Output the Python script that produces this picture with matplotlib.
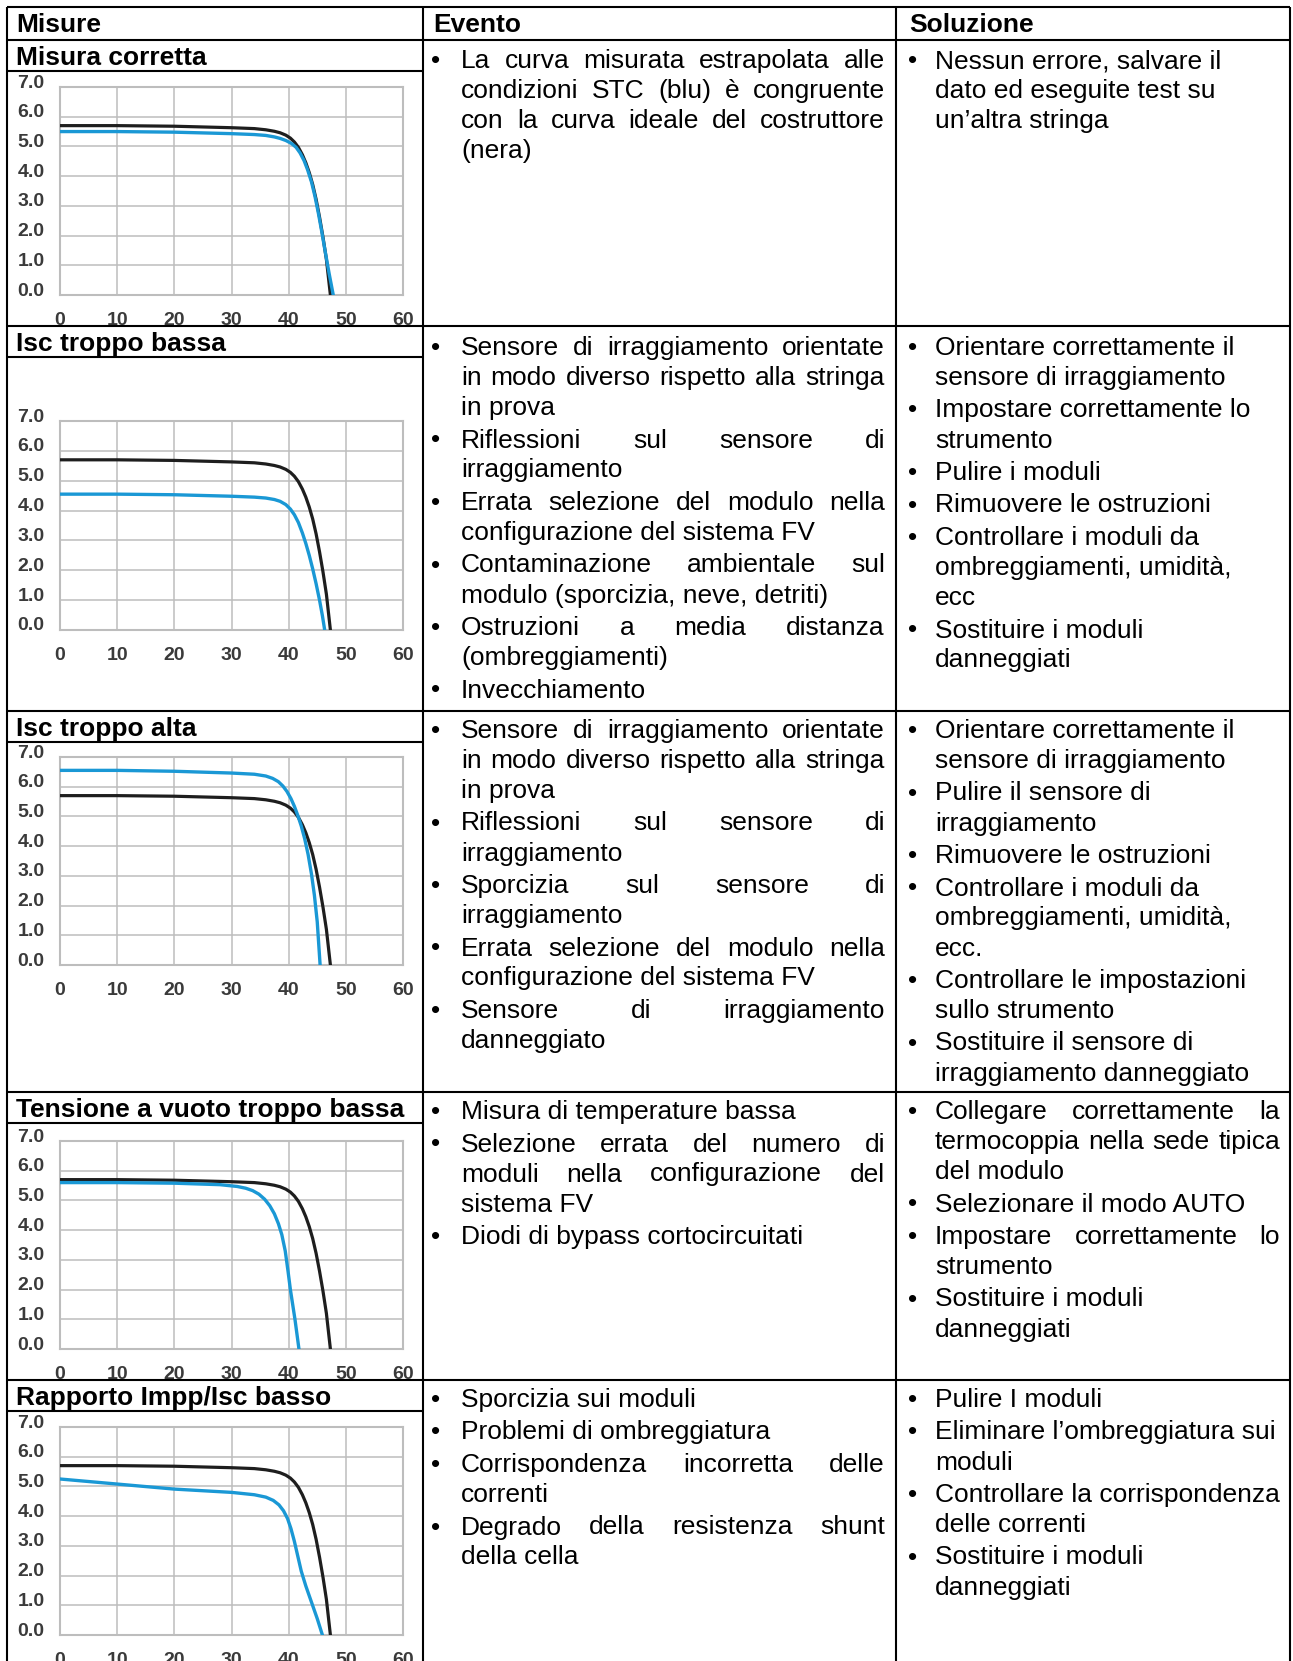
"""
Tabella diagnostica curve I-V: misura, evento, soluzione.
Ogni riga ha una curva ideale (nera) e una misurata a STC (blu).
"""

import matplotlib
matplotlib.use("Agg")
import matplotlib.pyplot as plt
from matplotlib.patches import Rectangle
from matplotlib.transforms import ScaledTranslation

plt.rcParams["font.family"] = ["Liberation Sans", "DejaVu Sans"]

# ── Dati ──────────────────────────────────────────────────────────────────
HEADERS = ["Misure", "Evento", "Soluzione"]
ROW_LABELS = [
    "Misura corretta",
    "Isc troppo bassa",
    "Isc troppo alta",
    "Tensione a vuoto troppo bassa",
    "Rapporto Impp/Isc basso",
]

X_TICKS = [0, 10, 20, 30, 40, 50, 60]
Y_TICKS = [0, 1, 2, 3, 4, 5, 6, 7]
Y_TICK_LABELS = ["0.0", "1.0", "2.0", "3.0", "4.0", "5.0", "6.0", "7.0"]

# curva ideale del costruttore (uguale in tutti i grafici)
V_IDEALE = [0, 10, 20, 30, 34, 36, 37.5, 38.5, 39.5, 40.3, 41, 41.7, 42.4, 43,
            43.6, 44.2, 44.8, 45.4, 46, 46.6, 47.3]
I_IDEALE = [5.70, 5.70, 5.68, 5.63, 5.60, 5.56, 5.51, 5.46, 5.38, 5.28, 5.15,
            4.97, 4.72, 4.45, 4.12, 3.72, 3.22, 2.62, 1.95, 1.20, 0.0]

V_CORRETTA = [0, 10, 20, 30, 34, 36, 37.5, 38.5, 39.5, 40.5, 41.3, 42, 42.7, 43.3,
              44, 44.6, 45.2, 45.8, 46.4, 47.1, 47.8]
I_CORRETTA = [5.50, 5.50, 5.48, 5.43, 5.40, 5.37, 5.32, 5.27, 5.20, 5.10, 4.97,
              4.78, 4.52, 4.22, 3.80, 3.32, 2.75, 2.12, 1.45, 0.70, 0.0]

V_ISC_BASSA = [0, 10, 20, 30, 34, 36, 37.5, 38.5, 39.5, 40.3, 41, 41.7, 42.4, 43,
               43.6, 44.2, 44.8, 45.4, 45.9, 46.3]
I_ISC_BASSA = [4.55, 4.55, 4.53, 4.48, 4.45, 4.42, 4.37, 4.31, 4.20, 4.05, 3.86,
               3.60, 3.25, 2.90, 2.50, 2.05, 1.55, 1.00, 0.48, 0.0]

V_ISC_ALTA = [0, 10, 20, 30, 34, 36, 37.2, 38.2, 39, 39.7, 40.4, 41, 41.6, 42.2,
              42.8, 43.4, 44, 44.5, 45, 45.5]
I_ISC_ALTA = [6.55, 6.55, 6.52, 6.46, 6.42, 6.36, 6.28, 6.17, 6.02, 5.84, 5.60,
              5.34, 5.03, 4.68, 4.25, 3.72, 3.05, 2.35, 1.45, 0.0]

V_VOC_BASSA = [0, 10, 20, 28, 31, 32.5, 33.7, 34.8, 35.8, 36.7, 37.5, 38.2, 38.8,
               39.4, 39.9, 40.3, 40.7, 41.1, 41.45, 41.8]
I_VOC_BASSA = [5.60, 5.60, 5.58, 5.53, 5.47, 5.41, 5.33, 5.21, 5.04, 4.82, 4.55,
               4.22, 3.85, 3.30, 2.60, 2.00, 1.50, 1.00, 0.50, 0.0]

V_IMPP_BASSO = [0, 10, 20, 30, 34, 36, 37.3, 38.3, 39.1, 39.8, 40.4, 41, 41.6,
                42.2, 43, 44, 45, 45.9]
I_IMPP_BASSO = [5.25, 5.08, 4.91, 4.80, 4.72, 4.64, 4.53, 4.38, 4.18, 3.92, 3.58,
                3.15, 2.65, 2.15, 1.65, 1.10, 0.55, 0.0]

CURVE_MISURATE = [
    (V_CORRETTA, I_CORRETTA),
    (V_ISC_BASSA, I_ISC_BASSA),
    (V_ISC_ALTA, I_ISC_ALTA),
    (V_VOC_BASSA, I_VOC_BASSA),
    (V_IMPP_BASSO, I_IMPP_BASSO),
]

# testi: una lista di paragrafi (righe già spezzate) per cella
EVENTO = [
    [["La curva misurata estrapolata alle", "condizioni STC (blu) è congruente",
      "con la curva ideale del costruttore", "(nera)"]],
    [["Sensore di irraggiamento orientate", "in modo diverso rispetto alla stringa",
      "in prova"],
     ["Riflessioni sul sensore di", "irraggiamento"],
     ["Errata selezione del modulo nella", "configurazione del sistema FV"],
     ["Contaminazione ambientale sul", "modulo (sporcizia, neve, detriti)"],
     ["Ostruzioni a media distanza", "(ombreggiamenti)"],
     ["Invecchiamento"]],
    [["Sensore di irraggiamento orientate", "in modo diverso rispetto alla stringa",
      "in prova"],
     ["Riflessioni sul sensore di", "irraggiamento"],
     ["Sporcizia sul sensore di", "irraggiamento"],
     ["Errata selezione del modulo nella", "configurazione del sistema FV"],
     ["Sensore di irraggiamento", "danneggiato"]],
    [["Misura di temperature bassa"],
     ["Selezione errata del numero di", "moduli nella configurazione del",
      "sistema FV"],
     ["Diodi di bypass cortocircuitati"]],
    [["Sporcizia sui moduli"],
     ["Problemi di ombreggiatura"],
     ["Corrispondenza incorretta delle", "correnti"],
     ["Degrado della resistenza shunt", "della cella"]],
]

SOLUZIONE = [
    [["Nessun errore, salvare il", "dato ed eseguite test su", "un\u2019altra stringa"]],
    [["Orientare correttamente il", "sensore di irraggiamento"],
     ["Impostare correttamente lo", "strumento"],
     ["Pulire i moduli"],
     ["Rimuovere le ostruzioni"],
     ["Controllare i moduli da", "ombreggiamenti, umidità,", "ecc"],
     ["Sostituire i moduli", "danneggiati"]],
    [["Orientare correttamente il", "sensore di irraggiamento"],
     ["Pulire il sensore di", "irraggiamento"],
     ["Rimuovere le ostruzioni"],
     ["Controllare i moduli da", "ombreggiamenti, umidità,", "ecc."],
     ["Controllare le impostazioni", "sullo strumento"],
     ["Sostituire il sensore di", "irraggiamento danneggiato"]],
    [["Collegare correttamente la", "termocoppia nella sede tipica", "del modulo"],
     ["Selezionare il modo AUTO"],
     ["Impostare correttamente lo", "strumento"],
     ["Sostituire i moduli", "danneggiati"]],
    [["Pulire I moduli"],
     ["Eliminare l\u2019ombreggiatura sui", "moduli"],
     ["Controllare la corrispondenza", "delle correnti"],
     ["Sostituire i moduli", "danneggiati"]],
]
# paragrafi giustificati nella colonna Soluzione (la colonna Evento lo è sempre)
GIUSTIFICA_SOLUZIONE = [
    [False],
    [False] * 6,
    [False] * 6,
    [True, False, True, False],
    [False] * 4,
]

# ── Layout (pixel, origine in alto a sinistra) ───────────────────────────
W, H = 1293, 1661
COL_X = [7, 423, 896, 1290]
TABLE_TOP = 7
ROW_TOP = [40, 326, 711, 1092, 1380]
LABEL_H = 31
CHART_X = (60, 403)
CHART_Y = [(87, 295), (421, 630), (757, 965), (1141, 1349), (1427, 1635)]
FIRST_BASE = [68, 355, 738, 1119, 1407]
LINE_H = 30
PARA_GAP = 2.5
FS = 19

NERO = "#1e1e1e"
BLU = "#1a98d5"
GRIGIO = "#bdbdbd"


def disegna_grafico(fig, box, v_mis, i_mis):
    x0, x1 = CHART_X
    y0, y1 = box
    ax = fig.add_axes([x0 / W, 1 - y1 / H, (x1 - x0) / W, (y1 - y0) / H])
    ax.plot(V_IDEALE, I_IDEALE, color=NERO, lw=2.3, zorder=3)
    ax.plot(v_mis, i_mis, color=BLU, lw=2.4, zorder=4)
    ax.set_xlim(0, 60)
    ax.set_ylim(0, 7)
    ax.set_xticks(X_TICKS)
    ax.set_yticks(Y_TICKS)
    ax.set_yticklabels(Y_TICK_LABELS)
    ax.set_axisbelow(True)
    ax.grid(True, color=GRIGIO, lw=1.1)
    ax.tick_params(length=0, labelsize=14, labelcolor="#3a3a3a")
    ax.tick_params(axis="y", pad=11)
    ax.tick_params(axis="x", pad=12)
    for s in ax.spines.values():
        s.set_color(GRIGIO)
        s.set_linewidth(1.5)
    # le etichette y stanno qualche pixel sopra la griglia
    offset = ScaledTranslation(0, 0.06, fig.dpi_scale_trans)
    for lab in ax.get_yticklabels():
        lab.set_fontweight("bold")
        lab.set_transform(lab.get_transform() + offset)
    for lab in ax.get_xticklabels():
        lab.set_fontweight("bold")
    return ax


def scrivi_riga(ax, renderer, riga, x_left, x_right, y, giustifica):
    parole = riga.split(" ")
    if not giustifica or len(parole) == 1:
        ax.text(x_left, y, riga, fontsize=FS, va="baseline", ha="left", zorder=6)
        return
    testi = [ax.text(0, y, p, fontsize=FS, va="baseline", ha="left", zorder=6)
             for p in parole]
    larghezze = [t.get_window_extent(renderer).width for t in testi]
    spazio = (x_right - x_left - sum(larghezze)) / (len(parole) - 1)
    x = x_left
    for t, w in zip(testi, larghezze):
        t.set_x(x)
        x += w + spazio


def scrivi_cella(ax, renderer, paragrafi, y, x_bullet, x_left, x_right, giustifica):
    for par, giust in zip(paragrafi, giustifica):
        ax.text(x_bullet, y, "\u2022", fontsize=FS, ha="center", va="baseline", zorder=6)
        for k, riga in enumerate(par):
            ultima = k == len(par) - 1
            scrivi_riga(ax, renderer, riga, x_left, x_right, y, giust and not ultima)
            y += LINE_H
        y += PARA_GAP


def main() -> None:
    fig = plt.figure(figsize=(W / 100, H / 100), dpi=100)
    renderer = fig.canvas.get_renderer()

    for box, (v_mis, i_mis) in zip(CHART_Y, CURVE_MISURATE):
        disegna_grafico(fig, box, v_mis, i_mis)

    # axes di base in coordinate pixel, sopra i grafici
    base = fig.add_axes([0, 0, 1, 1])
    base.set_xlim(0, W)
    base.set_ylim(H, 0)
    base.axis("off")
    base.patch.set_visible(False)
    base.set_zorder(10)

    lw = 1.5
    # intestazione
    base.text(16, TABLE_TOP + 25, HEADERS[0], fontsize=FS, fontweight="bold", va="baseline")
    base.text(433, TABLE_TOP + 25, HEADERS[1], fontsize=FS, fontweight="bold", va="baseline")
    base.text(909, TABLE_TOP + 25, HEADERS[2], fontsize=FS, fontweight="bold", va="baseline")
    base.hlines([TABLE_TOP] + ROW_TOP, COL_X[0], COL_X[-1], color="black", lw=lw, zorder=8)
    base.vlines(COL_X, TABLE_TOP, H + 5, color="black", lw=lw, zorder=8)

    for r, top in enumerate(ROW_TOP):
        # striscia bianca dell'etichetta: copre cio' che sborda dal grafico
        base.add_patch(Rectangle((COL_X[0], top), COL_X[1] - COL_X[0], LABEL_H,
                                 facecolor="white", edgecolor="none", zorder=4))
        base.text(16, top + 25, ROW_LABELS[r], fontsize=FS, fontweight="bold",
                  va="baseline", zorder=6)
        base.hlines(top + LABEL_H, COL_X[0], COL_X[1], color="black", lw=lw, zorder=8)

        scrivi_cella(base, renderer, EVENTO[r], FIRST_BASE[r], 436, 461, 885,
                     [True] * len(EVENTO[r]))
        scrivi_cella(base, renderer, SOLUZIONE[r], FIRST_BASE[r], 913, 935, 1280,
                     GIUSTIFICA_SOLUZIONE[r])

    fig.savefig("out.png", dpi=100)
    plt.close("all")


if __name__ == "__main__":
    main()
